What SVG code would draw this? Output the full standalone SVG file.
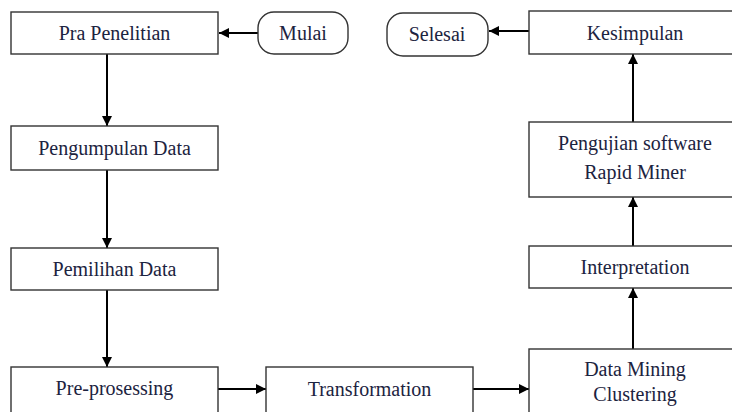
<svg xmlns="http://www.w3.org/2000/svg" width="732" height="412" viewBox="0 0 732 412">
<defs>
<marker id="ah" viewBox="0 0 10 10" refX="10" refY="5" markerWidth="10" markerHeight="10" markerUnits="userSpaceOnUse" orient="auto">
<path d="M0,0 L10,5 L0,10 Z" fill="#000"/>
</marker>
<style>
.box{fill:#fff;stroke:#333;stroke-width:1.4}
.t{font-family:"Liberation Serif","Times New Roman",serif;font-size:20px;fill:#1c2340;text-anchor:middle}
.c{stroke:#000;stroke-width:2;fill:none;marker-end:url(#ah)}
</style>
</defs>
<rect width="732" height="412" fill="#fff"/>
<g id="connectors">
<line class="c" x1="258" y1="33" x2="219" y2="33"/>
<line class="c" x1="107" y1="54" x2="107" y2="126"/>
<line class="c" x1="107" y1="170" x2="107" y2="248"/>
<line class="c" x1="107" y1="290" x2="107" y2="367"/>
<line class="c" x1="218" y1="389" x2="266" y2="389"/>
<line class="c" x1="473" y1="389" x2="529" y2="389"/>
<line class="c" x1="633" y1="349" x2="633" y2="288"/>
<line class="c" x1="633" y1="246" x2="633" y2="197"/>
<line class="c" x1="633" y1="122" x2="633" y2="54"/>
<line class="c" x1="529" y1="31" x2="489" y2="31"/>
</g>
<g id="mulai"><rect class="box" x="258" y="12" width="90" height="42" rx="16"/><text class="t" x="303" y="40">Mulai</text></g>
<g id="pra"><rect class="box" x="11" y="12" width="207" height="42"/><text class="t" x="114.5" y="40">Pra Penelitian</text></g>
<g id="pengumpulan"><rect class="box" x="11" y="126" width="207" height="44"/><text class="t" x="114.5" y="155">Pengumpulan Data</text></g>
<g id="pemilihan"><rect class="box" x="11" y="248" width="207" height="42"/><text class="t" x="114.5" y="276">Pemilihan Data</text></g>
<g id="preprosessing"><rect class="box" x="11" y="367" width="207" height="50"/><text class="t" x="114.5" y="395">Pre-prosessing</text></g>
<g id="transformation"><rect class="box" x="266" y="367" width="207" height="50"/><text class="t" x="369.5" y="396">Transformation</text></g>
<g id="datamining"><rect class="box" x="529" y="349" width="212" height="70"/><text class="t" x="635" y="376">Data Mining</text><text class="t" x="635" y="401">Clustering</text></g>
<g id="interpretation"><rect class="box" x="529" y="246" width="212" height="42"/><text class="t" x="635" y="274">Interpretation</text></g>
<g id="pengujian"><rect class="box" x="529" y="122" width="212" height="75"/><text class="t" x="635" y="150">Pengujian software</text><text class="t" x="635" y="179">Rapid Miner</text></g>
<g id="kesimpulan"><rect class="box" x="529" y="11" width="212" height="43"/><text class="t" x="635" y="40">Kesimpulan</text></g>
<g id="selesai"><rect class="box" x="387" y="13" width="101" height="43" rx="16"/><text class="t" x="437" y="41">Selesai</text></g>
</svg>
